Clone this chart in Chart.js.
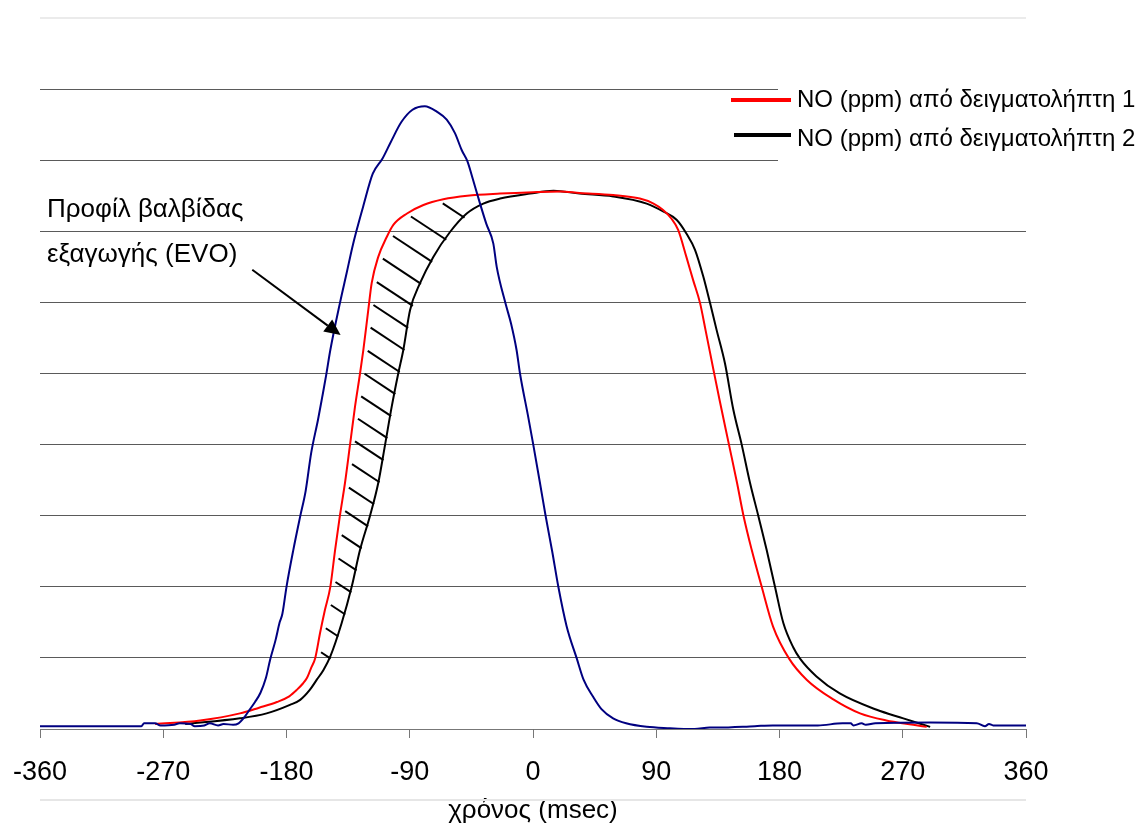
<!DOCTYPE html>
<html><head><meta charset="utf-8">
<script src="https://cdn.jsdelivr.net/npm/chart.js@4/dist/chart.umd.min.js"></script>
<style>html,body{margin:0;padding:0;background:#fff}#wrap{width:1142px;height:825px;position:relative}</style>
</head><body><div id="wrap"><canvas id="c"></canvas></div>
<script>
const FONT = '"Liberation Sans", Arial, Helvetica, sans-serif';
const xTicks = [-360, -270, -180, -90, 0, 90, 180, 270, 360];
const xTitle = 'χρόνος (msec)';
const seriesLabels = ['Προφίλ βαλβίδας εξαγωγής (EVO)', 'NO (ppm) από δειγματολήπτη 1', 'NO (ppm) από δειγματολήπτη 2'];
const noteLines = ['Προφίλ βαλβίδας', 'εξαγωγής (EVO)'];

// exhaust valve profile (arbitrary grid units)
const valveT = [-360,-330,-300,-286,-284,-276,-272,-262,-258,-250,-247,-240,-236,-230,-226,-219,-215,-211,-207,-203,-199,-195,-192,-188,-185,-183,-180,-175,-170,-166,-162,-157,-154,-151,-148,-141,-136,-132,-129,-124,-117,-110,-104,-96,-88,-79,-70,-63,-57,-52,-48,-44,-39,-34,-29,-26.5,-20,-16,-12,-9.5,-3.5,0,5,9,14,18.5,24.5,32,37,44,50,58.5,68,83,100,112,118,129,135,162,175,208,226,232,234,240,243,250,290,324,330,333,336,360];
const valveY = [0.04,0.04,0.04,0.04,0.08,0.08,0.05,0.06,0.08,0.07,0.04,0.05,0.08,0.05,0.07,0.06,0.08,0.16,0.27,0.38,0.51,0.72,0.97,1.25,1.5,1.62,2.0,2.52,2.99,3.35,3.88,4.35,4.66,4.98,5.33,5.99,6.42,6.77,7.0,7.35,7.81,8.02,8.25,8.54,8.71,8.76,8.68,8.57,8.38,8.14,7.99,7.74,7.41,7.1,6.83,6.5,5.98,5.7,5.33,5.0,4.39,4.02,3.47,3.02,2.5,2.0,1.45,0.99,0.69,0.45,0.28,0.15,0.08,0.03,0.01,0.0,0.0,0.02,0.02,0.04,0.05,0.05,0.08,0.08,0.05,0.08,0.06,0.08,0.09,0.08,0.04,0.07,0.05,0.05];

// NO, probe 1
const probe1T = [-276,-243,-214,-200,-187,-178,-172.5,-168,-165,-162,-159,-155.5,-152,-148,-144.5,-141,-137.3,-133.6,-130,-126.3,-123.9,-120.3,-117.8,-113,-106.8,-102,-92,-80,-65.5,-48,-24,0,20,34,58.6,78,88,95,101,106,112,117,122,126,131.8,136.2,143.1,148.9,153.7,159.7,167,175.3,187,200,219,238.8,258,277.7,287.5];
const probe1Y = [0.07,0.12,0.22,0.3,0.38,0.46,0.55,0.64,0.72,0.86,1.0,1.35,1.67,2.0,2.52,3.0,3.46,4.0,4.53,5.0,5.33,5.89,6.27,6.64,6.92,7.09,7.25,7.37,7.45,7.5,7.53,7.55,7.56,7.54,7.51,7.46,7.39,7.3,7.18,7.02,6.64,6.31,5.99,5.61,5.05,4.63,4.0,3.47,3.0,2.52,2.0,1.44,0.99,0.69,0.42,0.22,0.12,0.06,0.03];

// NO, probe 2
const probe2T = [-254,-214,-194.5,-177.5,-170,-163,-158,-153,-148,-139.7,-132.4,-126.3,-119,-113,-108,-103.2,-98.4,-94.7,-89.8,-82.5,-72.8,-60.6,-48.4,-36.3,-24,-2.2,15,34,58.6,83,95,105,112,118.3,124.4,129.3,134.1,140.2,146.3,152.4,158.5,164.5,170.6,176.7,182.8,190,195,207,224,251,270.4,290];
const probe2Y = [0.07,0.15,0.22,0.34,0.41,0.55,0.69,0.83,1.02,1.49,2.0,2.52,3.0,3.46,4.0,4.53,5.0,5.33,5.89,6.27,6.64,6.99,7.25,7.39,7.46,7.53,7.57,7.53,7.49,7.39,7.28,7.16,6.97,6.74,6.36,5.99,5.61,5.14,4.49,4.0,3.46,3.0,2.52,2.0,1.49,1.15,0.99,0.74,0.5,0.27,0.15,0.03];

// arrow annotation (data coordinates)
const arrowFrom = {x: -205, y: 6.46};
const arrowTo = {x: -140.5, y: 5.54};

const zip = (t, y) => t.map((v, i) => ({x: v, y: y[i]}));

function crossX(pts, py, maxX) {
  for (let i = 0; i < pts.length - 1; i++) {
    const a = pts[i], b = pts[i + 1];
    if (a.x > maxX) break;
    if ((a.y - py) * (b.y - py) <= 0 && a.y !== b.y) {
      return a.x + (b.x - a.x) * (py - a.y) / (b.y - a.y);
    }
  }
  return null;
}
function rayHit(pts, ex, ey, dx, dy, maxX) {
  let best = null;
  for (let i = 0; i < pts.length - 1; i++) {
    const a = pts[i], b = pts[i + 1];
    if (a.x > maxX) break;
    const sx = b.x - a.x, sy = b.y - a.y;
    const den = dx * sy - dy * sx;
    if (Math.abs(den) < 1e-9) continue;
    const qx = a.x - ex, qy = a.y - ey;
    const s = (qx * sy - qy * sx) / den;
    const u = (qx * dy - qy * dx) / den;
    if (s > 0 && u >= 0 && u <= 1 && (best === null || s < best)) best = s;
  }
  return best;
}

const deco = {
  id: 'deco',
  afterDatasetsDraw(chart) {
    const {ctx, chartArea: ca, scales: {x, y}} = chart;
    const red = chart.getDatasetMeta(1).data.map(p => ({x: p.x, y: p.y}));
    const blk = chart.getDatasetMeta(2).data.map(p => ({x: p.x, y: p.y}));
    ctx.save();
    // hatching between the two NO curves on the rising edge
    const len = Math.hypot(1, 0.66), dx = -1 / len, dy = -0.66 / len;
    const maxX = x.getPixelForValue(10);
    ctx.strokeStyle = '#000'; ctx.lineWidth = 2; ctx.lineCap = 'butt';
    for (let k = 0; k < 21; k++) {
      const v = 7.2 - k * 0.31;
      const py = y.getPixelForValue(v);
      const ex = crossX(blk, py, maxX);
      if (ex === null) continue;
      const s = rayHit(red, ex, py, dx, dy, maxX);
      if (s === null) continue;
      const ss = Math.max(0, s - 5);
      ctx.beginPath();
      ctx.moveTo(ex + dx * ss, py + dy * ss);
      ctx.lineTo(ex + 1, py + 0.66);
      ctx.stroke();
    }
    // arrow
    const ax0 = x.getPixelForValue(arrowFrom.x), ay0 = y.getPixelForValue(arrowFrom.y);
    const ax1 = x.getPixelForValue(arrowTo.x), ay1 = y.getPixelForValue(arrowTo.y);
    const ang = Math.atan2(ay1 - ay0, ax1 - ax0);
    const hl = 16, hw = 7.5;
    const bx = ax1 - hl * Math.cos(ang), by = ay1 - hl * Math.sin(ang);
    ctx.lineWidth = 2;
    ctx.beginPath(); ctx.moveTo(ax0, ay0); ctx.lineTo(bx, by); ctx.stroke();
    ctx.fillStyle = '#000';
    ctx.beginPath();
    ctx.moveTo(ax1, ay1);
    ctx.lineTo(bx + hw * Math.sin(ang), by - hw * Math.cos(ang));
    ctx.lineTo(bx - hw * Math.sin(ang), by + hw * Math.cos(ang));
    ctx.closePath(); ctx.fill();
    // note text
    ctx.font = '26px ' + FONT;
    ctx.textBaseline = 'alphabetic'; ctx.textAlign = 'left';
    ctx.fillText(noteLines[0], ca.left + 7, 217);
    ctx.fillText(noteLines[1], ca.left + 7, 262);
    // legend box
    ctx.fillStyle = '#fff';
    ctx.fillRect(778, 70, chart.width - 778, 100);
    ctx.font = '24px ' + FONT;
    [1, 2].forEach((di, r) => {
      const ds = chart.data.datasets[di];
      const yy = 100 + r * 35;
      ctx.strokeStyle = ds.borderColor; ctx.lineWidth = 4;
      ctx.beginPath(); ctx.moveTo(r === 0 ? 731 : 734, yy); ctx.lineTo(791, yy); ctx.stroke();
      ctx.fillStyle = '#000';
      ctx.textBaseline = 'middle';
      ctx.fillText(ds.label, 797, yy + (r === 0 ? 0 : 4));
    });
    // light frame line below axis title
    const step = y.getPixelForValue(0) - y.getPixelForValue(1);
    ctx.strokeStyle = '#e6e6e6'; ctx.lineWidth = 2;
    ctx.beginPath(); ctx.moveTo(ca.left, ca.bottom + step); ctx.lineTo(ca.right, ca.bottom + step); ctx.stroke();
    ctx.restore();
  }
};

new Chart(document.getElementById('c'), {
  type: 'line',
  data: {
    datasets: [
      {label: seriesLabels[0], data: zip(valveT, valveY), borderColor: '#000080', borderWidth: 2, cubicInterpolationMode: 'monotone', pointRadius: 0},
      {label: seriesLabels[1], data: zip(probe1T, probe1Y), borderColor: '#ff0000', borderWidth: 2, cubicInterpolationMode: 'monotone', pointRadius: 0},
      {label: seriesLabels[2], data: zip(probe2T, probe2Y), borderColor: '#000000', borderWidth: 2, cubicInterpolationMode: 'monotone', pointRadius: 0}
    ]
  },
  options: {
    responsive: true, maintainAspectRatio: false, animation: false,
    layout: {padding: {left: 40, right: 116, top: 18, bottom: 0}},
    plugins: {legend: {display: false}, tooltip: {enabled: false}},
    scales: {
      x: {
        type: 'linear', min: -360, max: 360,
        afterBuildTicks: s => { s.ticks = xTicks.map(v => ({value: v})); },
        afterFit: s => { s.height = 96; s.paddingLeft = 0; s.paddingRight = 0; },
        ticks: {font: {family: FONT, size: 27}, color: '#000', padding: 18, maxRotation: 0, autoSkip: false},
        grid: {drawOnChartArea: false, drawTicks: true, tickLength: 9, color: '#777'},
        border: {display: true, color: '#777', width: 1},
        title: {display: true, text: xTitle, font: {family: FONT, size: 26, lineHeight: 1}, color: '#000', padding: {top: 0, bottom: 1}}
      },
      y: {
        min: 0, max: 10,
        afterFit: s => { s.width = 0; },
        ticks: {display: false, stepSize: 1},
        grid: {drawTicks: false, color: c => (c.tick && c.tick.value === 10 ? '#ebebeb' : '#5a5a5a'), lineWidth: c => (c.tick && c.tick.value === 10 ? 2 : 1)},
        border: {display: false}
      }
    }
  },
  plugins: [deco]
});
</script></body></html>
